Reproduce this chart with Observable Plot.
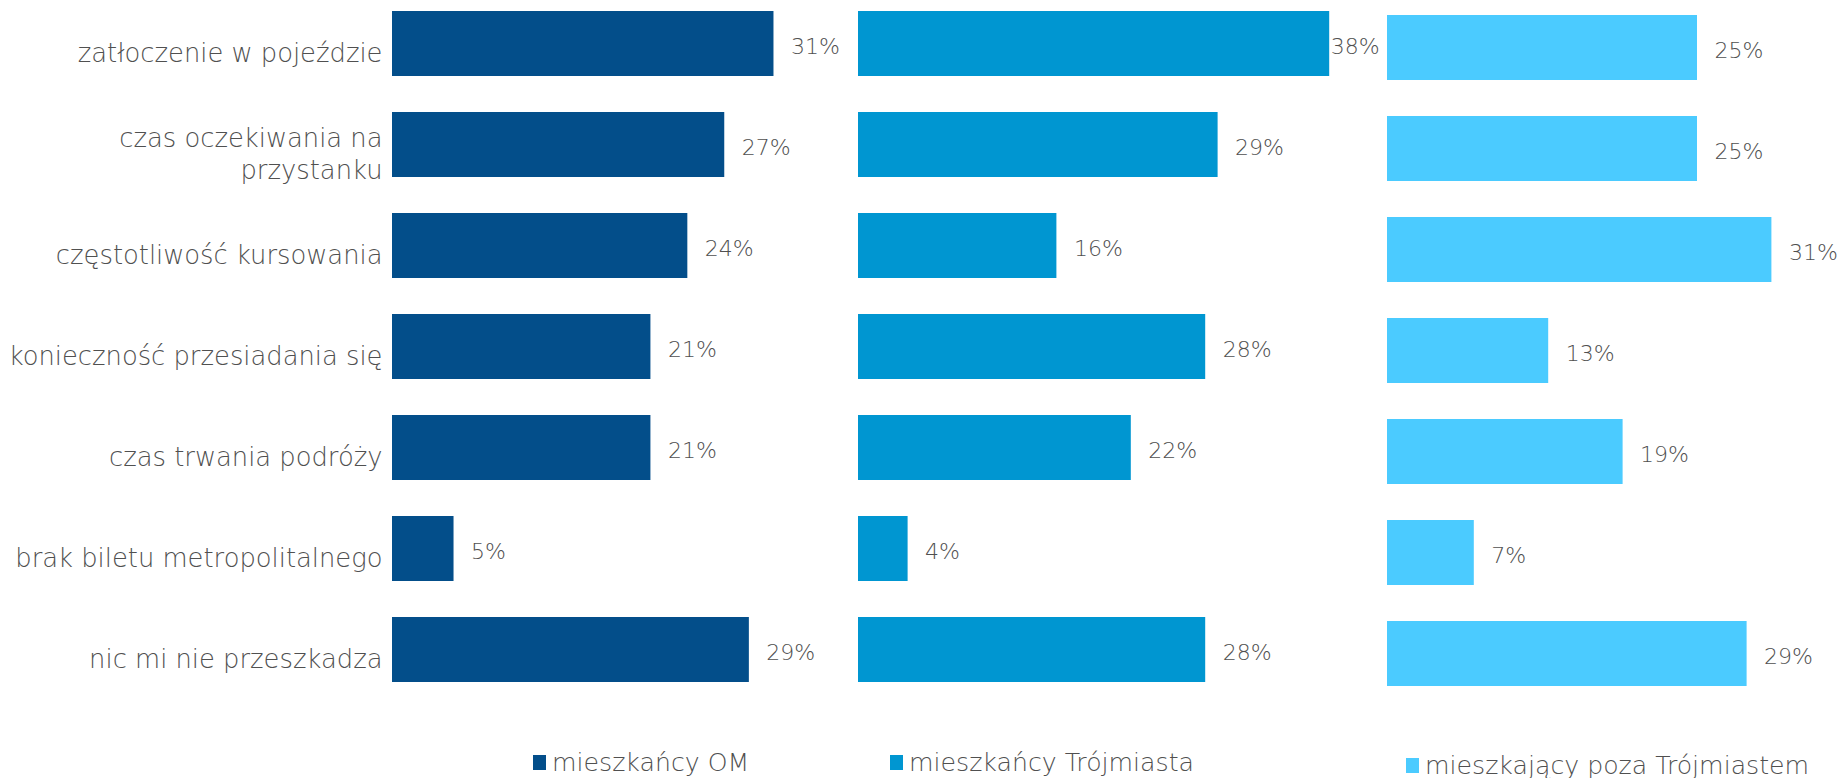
<!DOCTYPE html>
<html><head><meta charset="utf-8">
<script src="https://cdn.jsdelivr.net/npm/d3@7"></script>
<script src="https://cdn.jsdelivr.net/npm/@observablehq/plot@0.6"></script>
<style>
body{margin:0;background:#fff;}
#wrap{position:relative;width:1837px;height:778px;font-family:"DejaVu Sans",sans-serif;font-weight:300;}
.panel{position:absolute;top:0;}
.panel svg{overflow:visible;background:transparent !important;}
.item{position:absolute;display:flex;align-items:center;font-size:25.2px;color:#505050;white-space:nowrap;line-height:1;}
.sw{width:13px;height:15px;margin-right:6px;}
</style></head><body>
<div id="wrap">
  <div id="p1" class="panel" style="left:0px"></div>
  <div id="p2" class="panel" style="left:857px"></div>
  <div id="p3" class="panel" style="left:1386px"></div>
  <div id="legend"></div>
</div>
<script>
const categories = ["zatłoczenie w pojeździe","czas oczekiwania na przystanku","częstotliwość kursowania","konieczność przesiadania się","czas trwania podróży","brak biletu metropolitalnego","nic mi nie przeszkadza"];
const tickLabels = ["zatłoczenie w pojeździe","czas oczekiwania na\nprzystanku","częstotliwość kursowania","konieczność przesiadania się","czas trwania podróży","brak biletu metropolitalnego","nic mi nie przeszkadza"];
const seriesNames = ["mieszkańcy OM","mieszkańcy Trójmiasta","mieszkający poza Trójmiastem"];
const valuesOM = [31,27,24,21,21,5,29];
const valuesTrojmiasto = [38,29,16,28,22,4,28];
const valuesPoza = [25,25,31,13,19,7,29];
const colors = ["#034e8a","#0096d1","#4bcbff"];

const FONT = "DejaVu Sans";
const TEXT = "#505050";

function panel(values, color, o) {
  const data = categories.map((c, i) => ({category: c, value: values[i]}));
  const marks = [
    Plot.barX(data, {x: "value", y: "category", fill: color}),
    Plot.text(data, {filter: d => d.value < o.clipAt, x: "value", y: "category", text: d => d.value + "%", textAnchor: "start", dx: 17, dy: 3, fill: TEXT, fontSize: 22}),
    Plot.text(data, {filter: d => d.value >= o.clipAt, x: "value", y: "category", text: d => d.value + "%", textAnchor: "start", dx: 1, dy: 3, fill: TEXT, fontSize: 22})
  ];
  if (o.axis) {
    marks.push(Plot.axisY({tickSize: 0, tickPadding: 10, fontSize: 25.8, fill: TEXT, dy: 8, lineHeight: 1.24, label: null,
      tickFormat: c => tickLabels[categories.indexOf(c)]}));
  }
  return Plot.plot({
    width: o.width, height: 700,
    marginLeft: o.ml, marginRight: o.mr, marginTop: o.mt, marginBottom: 700 - o.mt - 672.5,
    style: {fontFamily: FONT, fontWeight: 300, background: "transparent", overflow: "visible"},
    x: {domain: [0, o.dmax], axis: null},
    y: {domain: categories, paddingInner: 0.3515, paddingOuter: 0, axis: o.axis ? undefined : null, label: null},
    marks
  });
}

document.getElementById("p1").append(panel(valuesOM, colors[0], {width: 857, ml: 392, mr: 22, mt: 10.5, dmax: 36, axis: true, clipAt: 99}));
document.getElementById("p2").append(panel(valuesTrojmiasto, colors[1], {width: 530, ml: 1, mr: 33, mt: 10.5, dmax: 40, axis: false, clipAt: 35}));
document.getElementById("p3").append(panel(valuesPoza, colors[2], {width: 450, ml: 1, mr: 2.6, mt: 14, dmax: 36, axis: false, clipAt: 99}));

const legendPos = [{left: 533, top: 750}, {left: 890, top: 750}, {left: 1406, top: 753}];
const legend = document.getElementById("legend");
seriesNames.forEach((name, i) => {
  const it = document.createElement("div");
  it.className = "item";
  it.style.left = legendPos[i].left + "px";
  it.style.top = legendPos[i].top + "px";
  const sw = document.createElement("span");
  sw.className = "sw";
  sw.style.background = colors[i];
  const tx = document.createElement("span");
  tx.textContent = name;
  it.append(sw, tx);
  legend.append(it);
});
</script>
</body></html>
